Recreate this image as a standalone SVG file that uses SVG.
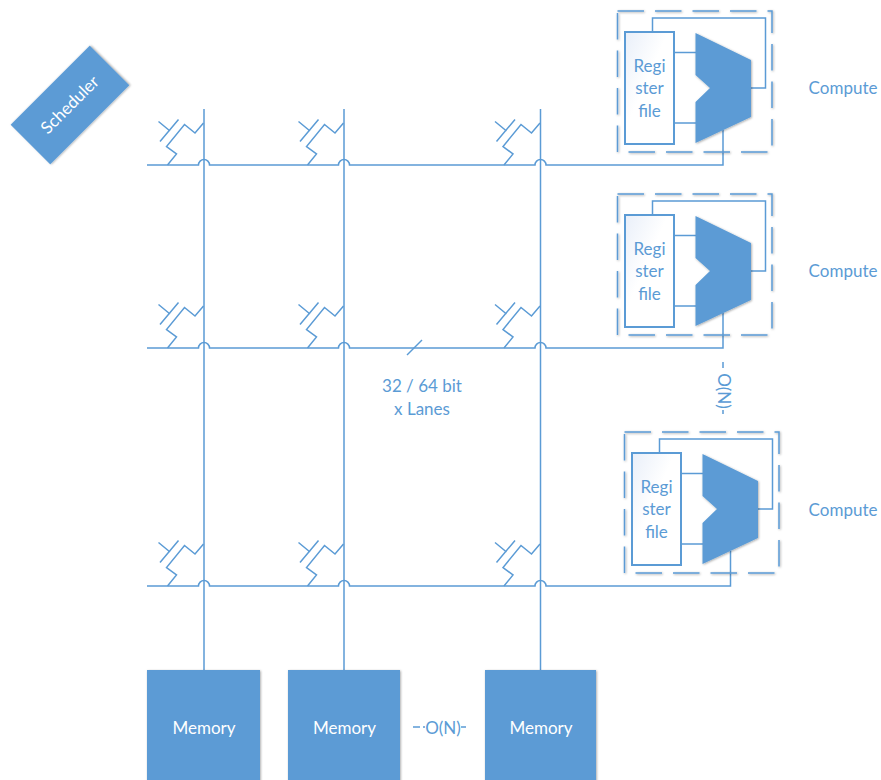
<svg xmlns="http://www.w3.org/2000/svg" xmlns:xlink="http://www.w3.org/1999/xlink" width="881" height="780" viewBox="0 0 881 780">
<style>
text{font-family:Lato,"Open Sans","Liberation Sans",sans-serif;font-size:17px;text-anchor:middle;fill:#5b9bd5}
.w{fill:#fff}
.l{fill:none;stroke:#5b9bd5;stroke-width:1.5}
.f{fill:#5b9bd5;filter:url(#s)}
.d{fill:none;stroke:#5b9bd5;stroke-width:1.500;stroke-dasharray:26.500 11;filter:url(#s)}
.r{fill:url(#g);stroke:#5b9bd5;stroke-width:2}
</style>
<defs>
<filter id="s" x="-10%" y="-10%" width="125%" height="125%"><feDropShadow dx="0.800" dy="0.800" stdDeviation="1.300" flood-color="#000" flood-opacity="0.350"/></filter>
<linearGradient id="g" x1="0" y1="0" x2="0.800" y2="0.800"><stop offset="0" stop-color="#e9eff9"/><stop offset="0.550" stop-color="#fff"/></linearGradient>
<g id="sw" class="l">
<path d="M167.5 165L176.5 154L166.500 146.500L184.500 124.500L195 133L203.500 123"/>
<path d="M158.500 121.500L170 131M160 141.500L178.500 119.500"/>
</g>
<g id="cu">
<rect class="d" x="617.500" y="11" width="154.500" height="141"/>
<path class="l" d="M652.500 32V18H765.500V88H751M674 52.500H696M674 123H696"/>
<rect class="r" x="625" y="32" width="49" height="112"/>
<path class="f" d="M695.500 33L751 60V117L695.500 143V102L710 88L695.500 75Z"/>
<text x="649.500" y="72">Regi</text>
<text x="649.500" y="94">ster</text>
<text x="649.500" y="117">file</text>
</g>
</defs>
<g id="connectors" class="l">
<path d="M204 109V670M344 109V670M540.500 109V670"/>
<path d="M147 165H198.500A5.500 5.500 0 0 1 209.500 165H338.500A5.500 5.500 0 0 1 349.500 165H535A5.500 5.500 0 0 1 546 165H723V130"/>
<path d="M147 348H198.500A5.500 5.500 0 0 1 209.500 348H338.500A5.500 5.500 0 0 1 349.500 348H535A5.500 5.500 0 0 1 546 348H723V313"/>
<path d="M147 586H198.500A5.500 5.500 0 0 1 209.500 586H338.500A5.500 5.500 0 0 1 349.500 586H535A5.500 5.500 0 0 1 546 586H730.500V551"/>
<path d="M407 355L422 340"/>
<path d="M413 727H420M423 727H425M461 727H466M723 362V368M723 410V414"/>
<use xlink:href="#sw"/><use xlink:href="#sw" x="140"/><use xlink:href="#sw" x="336.500"/>
<use xlink:href="#sw" y="183"/><use xlink:href="#sw" x="140" y="183"/><use xlink:href="#sw" x="336.500" y="183"/>
<use xlink:href="#sw" y="421"/><use xlink:href="#sw" x="140" y="421"/><use xlink:href="#sw" x="336.500" y="421"/>
</g>
<g id="scheduler"><rect class="f" x="14" y="77" width="112" height="56" transform="rotate(-45 70 105)"/><text class="w" x="70" y="110.500" transform="rotate(-45 70 105)">Scheduler</text></g>
<g id="compute1"><use xlink:href="#cu"/><text x="843" y="94">Compute</text></g>
<g id="compute2"><use xlink:href="#cu" y="183"/><text x="843" y="277">Compute</text></g>
<g id="compute3"><use xlink:href="#cu" x="7" y="421"/><text x="843" y="516">Compute</text></g>
<g id="memory1"><rect class="f" x="147" y="670" width="113" height="115"/><text class="w" x="204" y="734">Memory</text></g>
<g id="memory2"><rect class="f" x="288" y="670" width="112" height="115"/><text class="w" x="344.500" y="734">Memory</text></g>
<g id="memory3"><rect class="f" x="485" y="670" width="111" height="115"/><text class="w" x="541" y="734">Memory</text></g>
<g id="labels">
<text x="422" y="392">32 / 64 bit</text>
<text x="422" y="415">x Lanes</text>
<text x="443" y="734">O(N)</text>
<text transform="translate(717.500 391) rotate(90)">O(N)</text>
</g>
</svg>
